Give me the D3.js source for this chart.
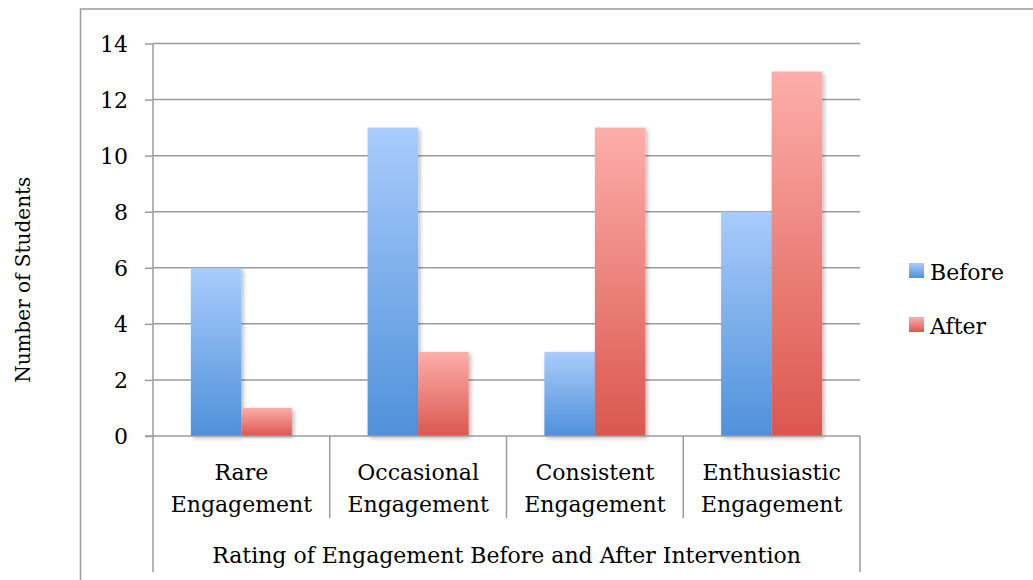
<!DOCTYPE html>
<html>
<head>
<meta charset="utf-8">
<script src="https://cdn.jsdelivr.net/npm/d3@7"></script>
<style>
  body { margin: 0; background: #fff; }
  svg { display: block; }
  text { font-family: "DejaVu Serif", serif; fill: #000; }
</style>
</head>
<body>
<svg></svg>
<script>
// chart data
const categories = [
  ["Rare", "Engagement"],
  ["Occasional", "Engagement"],
  ["Consistent", "Engagement"],
  ["Enthusiastic", "Engagement"]
];
const seriesNames = ["Before", "After"];
const beforeValues = [6, 11, 3, 8];
const afterValues = [1, 3, 11, 13];
const yTicks = [0, 2, 4, 6, 8, 10, 12, 14];
const xTitle = "Rating of Engagement Before and After Intervention";
const yTitle = "Number of Students";

// dimensions
const width = 1033;
const height = 580;
const plotLeft = 153;
const plotRight = 860;
const plotTop = 43.5;
const plotBottom = 436;
const gridColor = "#9c9c9c";

const svg = d3.select("svg").attr("width", width).attr("height", height);

const defs = svg.append("defs");
const gradBlue = defs.append("linearGradient").attr("id", "gBefore")
  .attr("x1", 0).attr("y1", 0).attr("x2", 0).attr("y2", 1);
gradBlue.append("stop").attr("offset", "0%").attr("stop-color", "#a9ccfc");
gradBlue.append("stop").attr("offset", "100%").attr("stop-color", "#4f91da");
const gradRed = defs.append("linearGradient").attr("id", "gAfter")
  .attr("x1", 0).attr("y1", 0).attr("x2", 0).attr("y2", 1);
gradRed.append("stop").attr("offset", "0%").attr("stop-color", "#fdaeaa");
gradRed.append("stop").attr("offset", "100%").attr("stop-color", "#db574e");
defs.append("filter").attr("id", "shadow")
  .attr("x", "-20%").attr("y", "-5%").attr("width", "150%").attr("height", "115%")
  .append("feDropShadow")
  .attr("dx", 2).attr("dy", 2).attr("stdDeviation", 2)
  .attr("flood-color", "#000").attr("flood-opacity", 0.28);

const fills = ["url(#gBefore)", "url(#gAfter)"];

// outer frame (only top and left are in view)
svg.append("path")
  .attr("d", "M80.5," + height + "V9H" + width)
  .attr("fill", "none").attr("stroke", gridColor).attr("stroke-width", 1.5);

// scales
const x0 = d3.scaleBand()
  .domain(d3.range(categories.length))
  .range([plotLeft, plotRight])
  .paddingInner(0).paddingOuter(0);
const x1 = d3.scaleBand()
  .domain(seriesNames)
  .range([0, x0.bandwidth()])
  .paddingInner(0).paddingOuter(0.75);
const y = d3.scaleLinear().domain([0, 14]).range([plotBottom, plotTop]);

// gridlines + y axis
const yAxis = svg.append("g")
  .attr("transform", "translate(" + plotLeft + ",0)")
  .call(d3.axisLeft(y).tickValues(yTicks).tickSize(8).tickPadding(17)
    .tickFormat(d3.format("d")));
yAxis.select(".domain").remove();
yAxis.selectAll(".tick line").attr("stroke", gridColor).attr("stroke-width", 1.5);
yAxis.selectAll(".tick text")
  .style("font-family", '"DejaVu Serif", serif')
  .attr("font-size", 22).attr("dy", "0.36em");

svg.append("g").selectAll("line")
  .data(yTicks.filter(d => d > 0))
  .enter().append("line")
  .attr("x1", plotLeft).attr("x2", plotRight)
  .attr("y1", d => y(d)).attr("y2", d => y(d))
  .attr("stroke", gridColor).attr("stroke-width", 1.5);

// bars
const rows = categories.map((c, i) => [beforeValues[i], afterValues[i]]);
const groups = svg.append("g").selectAll("g")
  .data(rows).enter().append("g")
  .attr("transform", (d, i) => "translate(" + x0(i) + ",0)");
groups.selectAll("rect")
  .data(d => d.map((v, j) => ({ v: v, j: j })))
  .enter().append("rect")
  .attr("x", d => x1(seriesNames[d.j]))
  .attr("width", x1.bandwidth())
  .attr("y", d => y(d.v))
  .attr("height", d => y(0) - y(d.v))
  .attr("fill", d => fills[d.j])
  .attr("filter", "url(#shadow)");

// axis lines
svg.append("line")
  .attr("x1", plotLeft).attr("x2", plotLeft)
  .attr("y1", plotTop).attr("y2", 572)
  .attr("stroke", gridColor).attr("stroke-width", 1.5);
svg.append("line")
  .attr("x1", plotLeft - 8).attr("x2", plotRight)
  .attr("y1", y(0)).attr("y2", y(0))
  .attr("stroke", gridColor).attr("stroke-width", 1.5);
svg.append("line")
  .attr("x1", plotRight).attr("x2", plotRight)
  .attr("y1", y(0)).attr("y2", 572)
  .attr("stroke", gridColor).attr("stroke-width", 1.5);
svg.append("g").selectAll("line")
  .data(d3.range(1, categories.length))
  .enter().append("line")
  .attr("x1", d => x0(d)).attr("x2", d => x0(d))
  .attr("y1", y(0)).attr("y2", 518)
  .attr("stroke", gridColor).attr("stroke-width", 1.5);

// category labels
const catText = svg.append("g").selectAll("text")
  .data(categories).enter().append("text")
  .attr("text-anchor", "middle")
  .attr("font-size", 22);
catText.selectAll("tspan")
  .data((d, i) => d.map(s => ({ s: s, i: i })))
  .enter().append("tspan")
  .attr("x", d => x0(d.i) + x0.bandwidth() / 2)
  .attr("y", (d, k) => 480 + k * 32)
  .text(d => d.s);

// axis titles
svg.append("text")
  .attr("x", (plotLeft + plotRight) / 2).attr("y", 563)
  .attr("text-anchor", "middle").attr("font-size", 22)
  .text(xTitle);
svg.append("text")
  .attr("transform", "translate(30," + ((plotTop + plotBottom) / 2 + 40) + ") rotate(-90)")
  .attr("text-anchor", "middle").attr("font-size", 20)
  .text(yTitle);

// legend
const legend = svg.append("g").selectAll("g")
  .data(seriesNames).enter().append("g")
  .attr("transform", (d, i) => "translate(909," + (263 + i * 54) + ")");
legend.append("rect")
  .attr("width", 15).attr("height", 15)
  .attr("fill", (d, i) => fills[i]);
legend.append("text")
  .attr("x", 21).attr("y", 17)
  .attr("font-size", 22)
  .text(d => d);
</script>
</body>
</html>
